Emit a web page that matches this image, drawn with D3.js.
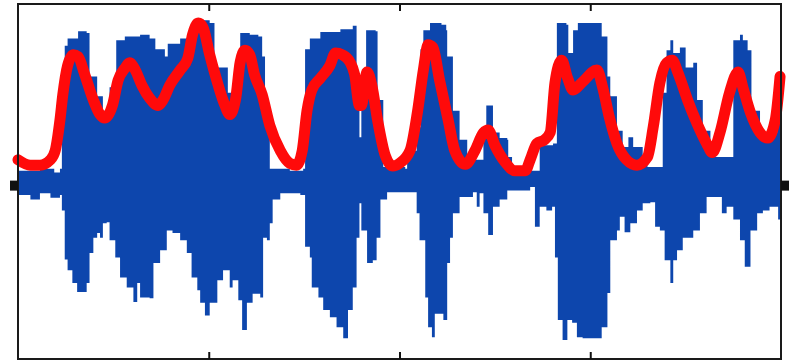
<!DOCTYPE html>
<html>
<head>
<meta charset="utf-8">
<script src="https://cdn.jsdelivr.net/npm/d3@7"></script>
<style>
  body { margin: 0; background: #fff; }
  svg { display: block; }
</style>
</head>
<body>
<div id="chart"></div>
<script>
// waveform envelope, upper side: [time (s), amplitude]
const upperEnv = [
  [0.00,0.08],[0.115,0.09],[0.19,0.07],[0.22,0.09],[0.23,0.41],[0.245,0.77],[0.26,0.81],
  [0.315,0.85],[0.36,0.84],[0.375,0.60],[0.415,0.49],[0.445,0.41],[0.48,0.54],[0.515,0.80],
  [0.56,0.82],[0.64,0.83],[0.69,0.81],[0.72,0.75],[0.77,0.71],[0.785,0.78],[0.85,0.81],
  [0.90,0.81],[0.93,0.90],[0.955,0.91],[1.005,0.895],[1.03,0.65],[1.10,0.51],[1.14,0.635],
  [1.165,0.84],[1.215,0.83],[1.26,0.82],[1.28,0.71],[1.295,0.36],[1.32,0.09],[1.425,0.08],
  [1.495,0.09],[1.505,0.75],[1.53,0.81],[1.585,0.845],[1.69,0.86],[1.755,0.88],[1.77,0.88],
  [1.775,0.54],[1.79,0.265],[1.80,0.525],[1.825,0.855],[1.875,0.85],[1.885,0.47],[1.915,0.10],
  [2.03,0.09],[2.04,0.19],[2.09,0.32],[2.11,0.75],[2.125,0.855],[2.16,0.895],[2.22,0.885],
  [2.245,0.855],[2.25,0.71],[2.28,0.41],[2.315,0.25],[2.355,0.14],[2.41,0.14],[2.44,0.29],
  [2.455,0.44],[2.475,0.44],[2.49,0.29],[2.525,0.26],[2.565,0.25],[2.57,0.155],[2.59,0.08],
  [2.735,0.22],[2.805,0.23],[2.825,0.895],[2.875,0.885],[2.885,0.73],[2.91,0.855],[2.935,0.895],
  [3.04,0.895],[3.06,0.82],[3.09,0.60],[3.105,0.49],[3.14,0.30],[3.17,0.21],[3.20,0.265],
  [3.225,0.21],[3.26,0.21],[3.275,0.155],[3.30,0.10],[3.365,0.10],[3.38,0.51],[3.40,0.745],
  [3.42,0.80],[3.435,0.73],[3.47,0.76],[3.50,0.65],[3.54,0.675],[3.56,0.47],[3.59,0.30],
  [3.63,0.155],[3.735,0.155],[3.75,0.80],[3.785,0.83],[3.80,0.80],[3.825,0.745],[3.845,0.41],
  [3.89,0.29],[3.94,0.29],[3.98,0.56],[4.00,0.56]
];

// waveform envelope, lower side
const lowerEnv = [
  [0.00,-0.055],[0.065,-0.08],[0.115,-0.045],[0.17,-0.07],[0.22,-0.055],[0.23,-0.14],[0.245,-0.41],
  [0.26,-0.47],[0.285,-0.54],[0.31,-0.59],[0.35,-0.59],[0.36,-0.54],[0.375,-0.375],[0.395,-0.29],
  [0.415,-0.265],[0.43,-0.29],[0.445,-0.21],[0.465,-0.205],[0.48,-0.305],[0.51,-0.40],[0.535,-0.51],
  [0.57,-0.565],[0.605,-0.645],[0.625,-0.54],[0.64,-0.62],[0.69,-0.625],[0.71,-0.43],[0.745,-0.36],
  [0.78,-0.25],[0.81,-0.265],[0.85,-0.305],[0.885,-0.375],[0.91,-0.51],[0.94,-0.58],[0.955,-0.65],
  [0.98,-0.72],[1.005,-0.65],[1.045,-0.525],[1.075,-0.47],[1.11,-0.565],[1.125,-0.525],[1.155,-0.635],
  [1.175,-0.80],[1.20,-0.65],[1.23,-0.60],[1.27,-0.62],[1.285,-0.29],[1.305,-0.305],[1.32,-0.21],
  [1.335,-0.08],[1.375,-0.045],[1.48,-0.055],[1.50,-0.055],[1.505,-0.34],[1.53,-0.40],[1.54,-0.565],
  [1.575,-0.62],[1.60,-0.69],[1.635,-0.73],[1.67,-0.785],[1.705,-0.845],[1.73,-0.69],[1.755,-0.565],
  [1.775,-0.29],[1.79,-0.10],[1.80,-0.25],[1.83,-0.43],[1.86,-0.415],[1.88,-0.29],[1.90,-0.08],
  [1.935,-0.04],[2.07,-0.04],[2.09,-0.155],[2.105,-0.305],[2.135,-0.62],[2.15,-0.785],[2.17,-0.84],
  [2.185,-0.71],[2.21,-0.71],[2.23,-0.745],[2.25,-0.43],[2.265,-0.29],[2.28,-0.155],[2.315,-0.065],
  [2.385,-0.04],[2.405,-0.12],[2.42,-0.045],[2.44,-0.155],[2.465,-0.275],[2.49,-0.12],[2.525,-0.08],
  [2.565,-0.03],[2.685,-0.01],[2.71,-0.23],[2.735,-0.12],[2.77,-0.14],[2.80,-0.12],[2.815,-0.40],
  [2.83,-0.745],[2.855,-0.855],[2.88,-0.745],[2.905,-0.76],[2.93,-0.84],[2.96,-0.845],[3.035,-0.845],
  [3.06,-0.785],[3.09,-0.595],[3.105,-0.305],[3.14,-0.25],[3.155,-0.175],[3.18,-0.26],[3.21,-0.21],
  [3.245,-0.14],[3.275,-0.10],[3.315,-0.095],[3.34,-0.23],[3.365,-0.25],[3.39,-0.415],[3.42,-0.54],
  [3.435,-0.415],[3.455,-0.36],[3.485,-0.29],[3.54,-0.25],[3.575,-0.155],[3.61,-0.065],[3.665,-0.065],
  [3.69,-0.155],[3.715,-0.12],[3.75,-0.19],[3.785,-0.305],[3.81,-0.45],[3.84,-0.25],[3.875,-0.155],
  [3.905,-0.14],[3.94,-0.12],[3.985,-0.19],[4.00,-0.19]
];

// smoothed energy envelope (red)
const energy = [
  [0.00,0.14],[0.065,0.11],[0.115,0.11],[0.17,0.14],[0.195,0.19],[0.22,0.36],[0.235,0.50],
  [0.26,0.66],[0.29,0.72],[0.315,0.71],[0.35,0.61],[0.395,0.47],[0.43,0.39],[0.455,0.37],
  [0.495,0.44],[0.525,0.58],[0.56,0.645],[0.585,0.675],[0.615,0.635],[0.65,0.55],[0.69,0.48],
  [0.735,0.44],[0.76,0.47],[0.795,0.55],[0.85,0.635],[0.89,0.70],[0.915,0.83],[0.945,0.895],
  [0.97,0.87],[1.005,0.72],[1.05,0.55],[1.085,0.44],[1.11,0.39],[1.14,0.47],[1.165,0.68],
  [1.19,0.745],[1.215,0.72],[1.24,0.61],[1.28,0.50],[1.32,0.33],[1.375,0.19],[1.425,0.12],
  [1.46,0.11],[1.49,0.19],[1.515,0.41],[1.54,0.525],[1.585,0.59],[1.635,0.66],[1.665,0.73],
  [1.70,0.72],[1.74,0.68],[1.765,0.61],[1.79,0.44],[1.80,0.44],[1.83,0.625],[1.855,0.55],
  [1.885,0.36],[1.925,0.165],[1.965,0.105],[2.00,0.12],[2.055,0.19],[2.095,0.41],[2.125,0.635],
  [2.15,0.775],[2.175,0.76],[2.21,0.58],[2.255,0.36],[2.29,0.19],[2.345,0.115],[2.395,0.19],
  [2.44,0.29],[2.465,0.305],[2.50,0.22],[2.555,0.125],[2.605,0.08],[2.66,0.08],[2.685,0.14],
  [2.72,0.23],[2.76,0.25],[2.79,0.29],[2.815,0.565],[2.85,0.69],[2.88,0.595],[2.91,0.525],
  [2.96,0.57],[3.035,0.635],[3.065,0.54],[3.10,0.375],[3.14,0.23],[3.19,0.14],[3.245,0.11],
  [3.30,0.155],[3.33,0.32],[3.365,0.565],[3.40,0.675],[3.43,0.69],[3.46,0.62],[3.51,0.47],
  [3.56,0.34],[3.61,0.23],[3.64,0.18],[3.68,0.29],[3.73,0.51],[3.775,0.625],[3.80,0.54],
  [3.84,0.40],[3.89,0.29],[3.93,0.26],[3.97,0.36],[3.995,0.60]
];

const xTicks = [1, 2, 3];
const yTicks = [0];

const W = 790, H = 361;
const margin = {top: 4, right: 9, bottom: 2, left: 18};

const svg = d3.select("#chart").append("svg")
  .attr("width", W)
  .attr("height", H);

svg.append("rect").attr("width", W).attr("height", H).attr("fill", "#fff");

const x = d3.scaleLinear().domain([0, 4]).range([margin.left, W - margin.right]);
const y = d3.scaleLinear().domain([-0.96, 1]).range([H - margin.bottom, margin.top]);

svg.append("clipPath").attr("id", "plot")
  .append("rect")
  .attr("x", margin.left).attr("y", margin.top)
  .attr("width", x(4) - x(0)).attr("height", y(-0.96) - y(1));

const blue = "#0d46ad";

// step curve gives the blocky edge of the dense waveform
const envArea = d3.area()
  .x(d => x(d[0]))
  .y0(y(0))
  .y1(d => y(d[1]))
  .curve(d3.curveStepAfter);

const g = svg.append("g").attr("clip-path", "url(#plot)");

g.append("path")
  .datum(upperEnv)
  .attr("d", envArea)
  .attr("fill", blue);

g.append("path")
  .datum(lowerEnv)
  .attr("d", envArea)
  .attr("fill", blue);

// red envelope
const line = d3.line()
  .x(d => x(d[0]))
  .y(d => y(d[1]))
  .curve(d3.curveMonotoneX);

svg.append("path")
  .datum(energy)
  .attr("d", line)
  .attr("fill", "none")
  .attr("stroke", "#ff0a0a")
  .attr("stroke-width", 11)
  .attr("stroke-linejoin", "round")
  .attr("stroke-linecap", "round");

// frame
svg.append("rect")
  .attr("x", x(0)).attr("y", y(1))
  .attr("width", x(4) - x(0)).attr("height", y(-0.96) - y(1))
  .attr("fill", "none")
  .attr("stroke", "#1a1a1a")
  .attr("stroke-width", 2);

// axes (ticks only)
const styleAxis = (sel, w) => {
  sel.select(".domain").remove();
  sel.selectAll(".tick text").remove();
  sel.selectAll(".tick line").attr("stroke", "#111").attr("stroke-width", w);
};

svg.append("g")
  .attr("transform", `translate(0,${y(1)})`)
  .call(d3.axisTop(x).tickValues(xTicks).tickSize(-7))
  .call(styleAxis, 2);

svg.append("g")
  .attr("transform", `translate(0,${y(-0.96)})`)
  .call(d3.axisBottom(x).tickValues(xTicks).tickSize(-7))
  .call(styleAxis, 2);

svg.append("g")
  .attr("transform", `translate(${x(0)},0)`)
  .call(d3.axisLeft(y).tickValues(yTicks).tickSize(8))
  .call(styleAxis, 10);

svg.append("g")
  .attr("transform", `translate(${x(4)},0)`)
  .call(d3.axisRight(y).tickValues(yTicks).tickSize(8))
  .call(styleAxis, 10);
</script>
</body>
</html>
